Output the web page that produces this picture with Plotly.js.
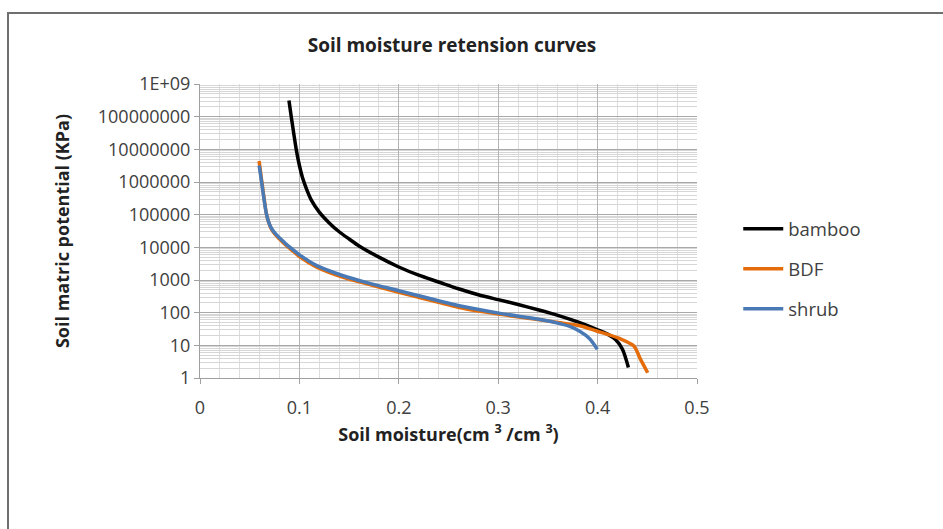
<!DOCTYPE html>
<html>
<head>
<meta charset="utf-8">
<script src="https://cdn.plot.ly/plotly-3.0.1.min.js"></script>
<style>
  html, body { margin: 0; padding: 0; background: #ffffff; }
  #wrap { position: relative; width: 943px; height: 529px; overflow: hidden; }
  #chart { position: absolute; left: 0; top: 0; width: 943px; height: 529px; }
  #frame { position: absolute; left: 7px; top: 12px; width: 940px; height: 530px;
           border-left: 2px solid #6f6f6f; border-top: 2px solid #6f6f6f; pointer-events: none; }
</style>
</head>
<body>
<div id="wrap">
  <div id="chart"></div>
  <div id="frame"></div>
</div>
<script>
// ---- data ----
const bambooX = [0.0895, 0.0918, 0.0945, 0.0968, 0.1, 0.103, 0.107, 0.112, 0.12, 0.13, 0.14, 0.15, 0.16, 0.18, 0.2, 0.22, 0.24, 0.26, 0.28, 0.30, 0.32, 0.34, 0.36, 0.38, 0.40, 0.41, 0.418, 0.425, 0.431];
const bambooY = [3.1e8, 1e8, 2.8e7, 1e7, 3.2e6, 1.4e6, 6.3e5, 2.8e5, 1.2e5, 5.6e4, 3.0e4, 1.8e4, 1.1e4, 5000, 2500, 1400, 870, 540, 355, 250, 178, 123, 83, 52, 30, 22, 15, 7.6, 2.1];

const bdfX = [0.0595, 0.061, 0.0625, 0.064, 0.0655, 0.067, 0.069, 0.0715, 0.075, 0.08, 0.086, 0.093, 0.1005, 0.117, 0.144, 0.168, 0.2, 0.22, 0.262, 0.302, 0.34, 0.36, 0.382, 0.399, 0.4225, 0.4365, 0.4427, 0.4504];
const bdfY = [4.4e6, 1.9e6, 8.7e5, 4.0e5, 1.86e5, 1e5, 5.9e4, 3.8e4, 2.6e4, 1.8e4, 1.2e4, 7900, 5100, 2500, 1200, 760, 420, 295, 141, 89, 62, 50, 40, 27.5, 16, 9.5, 4, 1.45];

const shrubX = [0.0595, 0.061, 0.0625, 0.064, 0.0655, 0.067, 0.069, 0.0715, 0.075, 0.08, 0.086, 0.093, 0.1005, 0.117, 0.144, 0.168, 0.2, 0.22, 0.262, 0.302, 0.342, 0.36, 0.372, 0.382, 0.392, 0.3997];
const shrubY = [3.2e6, 1.6e6, 7.6e5, 3.6e5, 1.8e5, 1e5, 6e4, 4e4, 2.8e4, 1.95e4, 1.3e4, 8700, 5750, 2800, 1350, 830, 470, 330, 160, 95, 62, 48, 38, 27, 16, 7.6];

const seriesNames = ["bamboo", "BDF", "shrub"];
const yTickVals = [1, 10, 100, 1000, 10000, 100000, 1000000, 10000000, 100000000, 1000000000];
const yTickText = ["1", "10", "100", "1000", "10000", "100000", "1000000", "10000000", "100000000", "1E+09"];
const xTickVals = [0, 0.1, 0.2, 0.3, 0.4, 0.5];
const xTickText = ["0", "0.1", "0.2", "0.3", "0.4", "0.5"];

const FONT = "Open Sans, DejaVu Sans, sans-serif";

function trace(x, y, name, color, group) {
  return {
    x: x, y: y, name: name, type: "scatter", mode: "lines",
    line: { color: color, width: 3.5, shape: "spline", smoothing: 0.8 },
    legendgroup: group, hoverinfo: "skip"
  };
}

const data = [
  trace(bambooX, bambooY, seriesNames[0], "#000000", "g1"),
  trace(bdfX, bdfY, seriesNames[1], "#E46C0A", "g2"),
  trace(shrubX, shrubY, seriesNames[2], "#4A7AB5", "g3")
];

const layout = {
  width: 943, height: 529,
  margin: { l: 200, r: 246, t: 84, b: 151, pad: 0 },
  paper_bgcolor: "#ffffff",
  plot_bgcolor: "#ffffff",
  font: { family: FONT, color: "#404040", size: 18 },
  title: {
    text: "<b>Soil moisture retension curves</b>",
    font: { family: FONT, size: 19, color: "#222222" },
    x: 0.507, xref: "paper", xanchor: "center",
    y: 1 - 45 / 529, yref: "container", yanchor: "middle"
  },
  xaxis: {
    range: [0, 0.5],
    tickvals: xTickVals, ticktext: xTickText,
    ticks: "outside", ticklen: 5, tickcolor: "#a0a0a0",
    ticklabelstandoff: 8,
    showline: true, linecolor: "#a0a0a0", linewidth: 1,
    showgrid: true, gridcolor: "#b4b4b4", gridwidth: 1,
    minor: { dtick: 0.02, showgrid: true, gridcolor: "#dcdcdc", gridwidth: 1, ticks: "" },
    zeroline: false,
    tickfont: { family: FONT, size: 18, color: "#404040" },
    title: {
      text: "<b>Soil moisture(cm <sup>3</sup> /cm <sup>3</sup>)</b>",
      font: { family: FONT, size: 18, color: "#222222" },
      standoff: 10
    }
  },
  yaxis: {
    type: "log",
    range: [0, 9],
    tickvals: yTickVals, ticktext: yTickText,
    ticks: "outside", ticklen: 5, tickcolor: "#a0a0a0",
    showline: true, linecolor: "#a0a0a0", linewidth: 1,
    showgrid: true, gridcolor: "#a8a8a8", gridwidth: 1,
    minor: { dtick: "D1", showgrid: true, gridcolor: "#d6d6d6", gridwidth: 1, ticks: "" },
    zeroline: false,
    tickfont: { family: FONT, size: 18, color: "#404040" },
    title: {
      text: "<b>Soil matric potential (KPa)</b>",
      font: { family: FONT, size: 18, color: "#222222" },
      standoff: 23
    }
  },
  showlegend: true,
  legend: {
    x: 1.083, xanchor: "left",
    y: 0.37, yanchor: "middle",
    bgcolor: "rgba(0,0,0,0)",
    font: { family: FONT, size: 18.5, color: "#404040" },
    itemwidth: 40,
    tracegroupgap: 13,
    traceorder: "grouped"
  }
};

Plotly.newPlot("chart", data, layout, { staticPlot: true, displayModeBar: false });
</script>
</body>
</html>
